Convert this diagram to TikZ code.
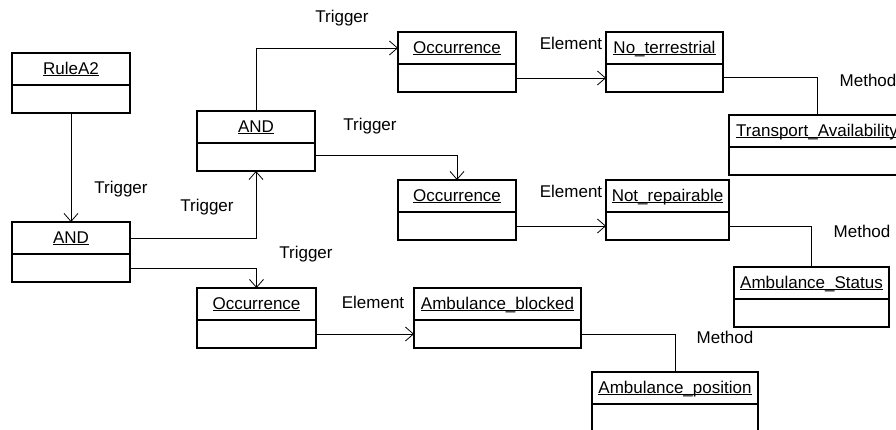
\documentclass[tikz,border=0pt]{standalone}
\usepackage{fontspec}
\setmainfont{Liberation Sans}
\usetikzlibrary{arrows.meta}

% underlined object name, rule sitting just under the baseline
\newcommand\objname[1]{\setbox0=\hbox{#1}\rlap{\rule[-2.3pt]{\wd0}{1pt}}\box0}

% UML object: name, left x, top y, width, title
\newcommand\umlobject[5]{%
  \node[objtitle, minimum width=#4pt, anchor=north west] (#1) at (#2,#3) {\objname{#5}};
  \node[objbody, minimum width=#4pt, anchor=north] (#1b) at (#1.south) {};
}

\tikzset{
  objtitle/.style={draw, line width=1.2pt, minimum height=32pt, inner sep=0pt, outer sep=0pt,
    text height=12pt, text depth=2pt, font=\fontsize{17}{20}\selectfont},
  objbody/.style={draw, line width=1.2pt, minimum height=28pt, inner sep=0pt, outer sep=0pt},
  lbl/.style={font=\fontsize{17}{20}\selectfont, inner sep=0pt, anchor=base},
  trig/.style={line width=0.8pt, -{Straight Barb[length=8pt,width=14pt]}},
  elem/.style={line width=0.8pt, -{Straight Barb[length=8pt,width=14pt]}},
  meth/.style={line width=0.8pt},
}

\begin{document}
\begin{tikzpicture}[x=1pt, y=-1pt]
\useasboundingbox (0,0) rectangle (896,429);
\clip (0,0) rectangle (896,429);

% objects
\umlobject{rule}{12}{53}{118}{RuleA2}
\umlobject{andA}{12}{222}{118}{AND}
\umlobject{andB}{197}{111}{118}{AND}
\umlobject{occA}{398}{32}{118}{Occurrence}
\umlobject{noter}{606}{32}{117}{No\_terrestrial}
\umlobject{trans}{729}{115}{176}{Transport\_Availability}
\umlobject{occB}{398}{180}{118}{Occurrence}
\umlobject{notrep}{606}{180}{123}{Not\_repairable}
\umlobject{ambst}{734}{267}{155}{Ambulance\_Status}
\umlobject{occC}{197}{288}{119}{Occurrence}
\umlobject{ambbl}{414}{288}{167}{Ambulance\_blocked}
\umlobject{ambpos}{592}{372}{166}{Ambulance\_position}

% trigger links
\draw[trig] (ruleb.south) -- (andA.north);
\draw[trig] (andA.east) -| (andBb.south);
\draw[trig] (andAb.east) -| (occC.north);
\draw[trig] (andB.north) |- (occA.west);
\draw[trig] ([yshift=2pt]andBb.east) -| (occB.north);

% element links
\draw[elem] (occAb.east) -- (noterb.west);
\draw[elem] (occBb.east) -- (notrepb.west);
\draw[elem] (occCb.east) -- (ambblb.west);

% method links
\draw[meth] ([yshift=1pt]noterb.east) -| (trans.north);
\draw[meth] (notrepb.east) -| (ambst.north);
\draw[meth] (ambblb.east) -| (ambpos.north);

% labels
\node[lbl] (t1) at (342,22) {Trigger};
\node[lbl] (t2) at (370,130) {Trigger};
\node[lbl] (t3) at (121,193) {Trigger};
\node[lbl] (t4) at (207,211) {Trigger};
\node[lbl] (t5) at (306,258) {Trigger};
\node[lbl] (e1) at (571,49) {Element};
\node[lbl] (e2) at (571,197) {Element};
\node[lbl] (e3) at (373,308) {Element};
\node[lbl] (m1) at (868,86) {Method};
\node[lbl] (m2) at (862,237) {Method};
\node[lbl] (m3) at (725,343) {Method};
\end{tikzpicture}
\end{document}
